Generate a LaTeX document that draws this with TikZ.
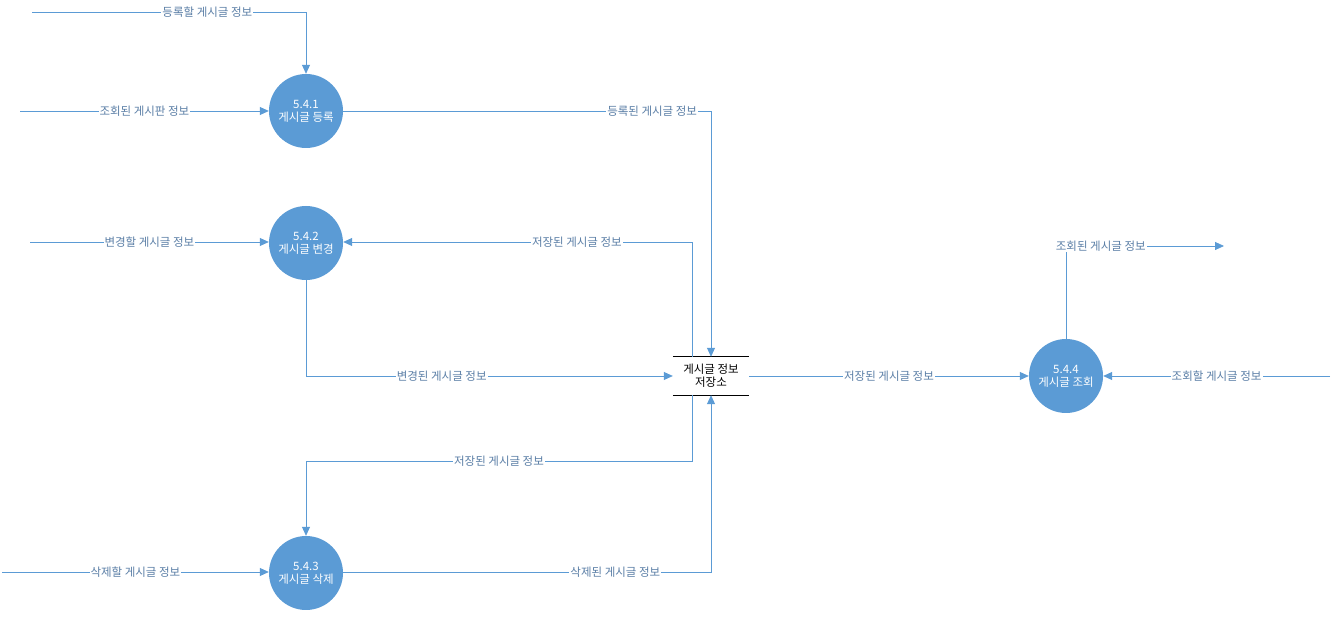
\documentclass[tikz,border=0pt]{standalone}
\usepackage{fontspec}
\setmainfont{Noto Sans CJK KR}
\usetikzlibrary{arrows.meta,positioning}
\definecolor{procblue}{HTML}{5B9BD5}
\definecolor{flowtext}{HTML}{5A7EA6}

\tikzset{
    proc/.style={circle,fill=procblue,text=white,minimum size=74pt,inner sep=0pt,align=center,font=\fontsize{11.5}{13}\selectfont},
    store/.style={minimum width=76pt,minimum height=38pt,inner sep=0pt,align=center,font=\fontsize{11.5}{13}\selectfont},
    flow/.style={draw=procblue,line width=0.8pt,-{Triangle[length=9pt,width=8pt]}},
    lbl/.style={fill=white,text=flowtext,inner sep=1pt,font=\fontsize{11.5}{13}\selectfont}
}

\begin{document}
\begin{tikzpicture}[x=1pt,y=1pt]
    \useasboundingbox (0,0) rectangle (1332,617);
    % processes
    \node[proc] (p1) at (306,506) {5.4.1\\게시글 등록};
    \node[proc] (p2) at (306,374) {5.4.2\\게시글 변경};
    \node[proc] (p3) at (306,44) {5.4.3\\게시글 삭제};
    \node[proc] (p4) at (1066,241) {5.4.4\\게시글 조회};
    % data store
    \node[store] (ds) at (711,241) {게시글 정보\\저장소};
    \draw[line width=0.8pt] (ds.north west) -- (ds.north east);
    \draw[line width=0.8pt] (ds.south west) -- (ds.south east);
    % free ends
    \coordinate (in1) at (32,605);
    \coordinate (in2) at (20,506);
    \coordinate (in3) at (30,375);
    \coordinate (in4) at (1330,241);
    \coordinate (in5) at (2,45);
    \coordinate (out1) at (1224,371);
    \coordinate (k1) at (in1 -| p1);
    \coordinate (k2) at (p1 -| ds);
    \coordinate (k3) at (692,375);
    \coordinate (k4) at (p2 |- ds);
    \coordinate (k5) at (1066,371);
    \coordinate (k6) at (692,156);
    \coordinate (k7) at (306,156);
    % flows
    \draw[flow] (in1) -- node[lbl,pos=.64]{등록할 게시글 정보} (k1) -- (p1);
    \draw[flow] (in2) -- node[lbl]{조회된 게시판 정보} (p1);
    \draw[flow] (p1) -- node[lbl,pos=.84]{등록된 게시글 정보} (k2) -- (ds);
    \draw[flow] (in3) -- node[lbl]{변경할 게시글 정보} (p2.west |- in3);
    \draw[flow] (k3 |- ds.north) -- (k3) -- node[lbl,pos=.33]{저장된 게시글 정보} (p2.east |- k3);
    \draw[flow] (p2) -- (k4) -- node[lbl,pos=.37]{변경된 게시글 정보} (ds);
    \draw[flow] (ds) -- node[lbl]{저장된 게시글 정보} (p4);
    \draw[flow] (in4) -- node[lbl]{조회할 게시글 정보} (p4);
    \draw[flow] (p4) -- (k5) -- node[lbl,pos=.22]{조회된 게시글 정보} (out1);
    \draw[flow] (k6 |- ds.south) -- (k6) -- node[lbl]{저장된 게시글 정보} (k7) -- (p3);
    \draw[flow] (in5) -- node[lbl]{삭제할 게시글 정보} (p3.west |- in5);
    \draw[flow] (p3.east |- in5) -- node[lbl,pos=.74]{삭제된 게시글 정보} (in5 -| ds) -- (ds);
\end{tikzpicture}
\end{document}
